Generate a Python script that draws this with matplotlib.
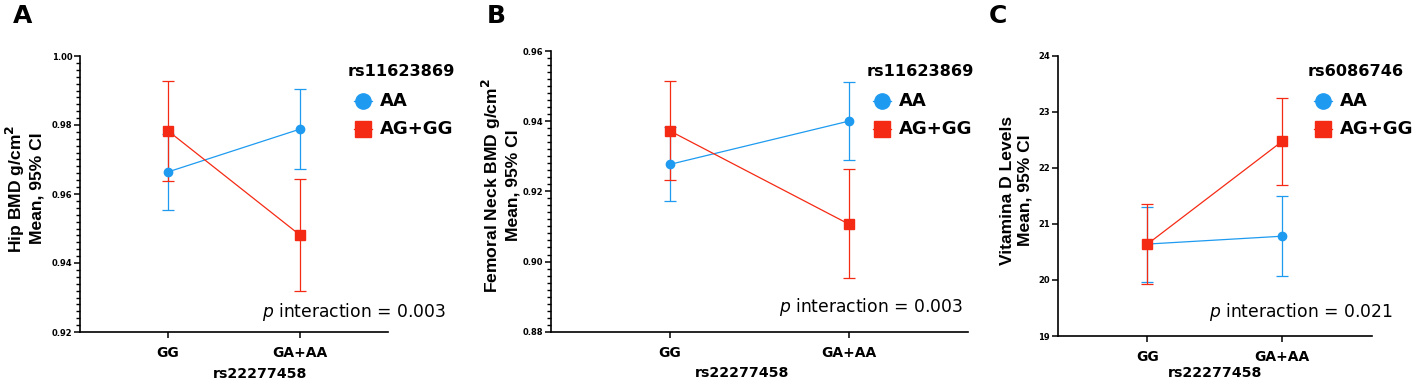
import matplotlib
matplotlib.use("Agg")
import matplotlib.pyplot as plt
from matplotlib.ticker import MultipleLocator, FormatStrFormatter
from matplotlib.lines import Line2D

plt.rcParams['font.family'] = ['DejaVu Sans']

categories = ["GG", "GA+AA"]
x_label = "rs22277458"

# Panel A: Hip BMD
a_aa_mean = [0.9664, 0.9788]
a_aa_low = [0.9555, 0.9672]
a_aa_high = [0.9773, 0.9904]
a_ag_mean = [0.9783, 0.9481]
a_ag_low = [0.9638, 0.9320]
a_ag_high = [0.9928, 0.9644]

# Panel B: Femoral Neck BMD
b_aa_mean = [0.9277, 0.9400]
b_aa_low = [0.9172, 0.9288]
b_aa_high = [0.9382, 0.9513]
b_ag_mean = [0.9372, 0.9107]
b_ag_low = [0.9233, 0.8952]
b_ag_high = [0.9514, 0.9263]

# Panel C: Vitamin D
c_aa_mean = [20.64, 20.78]
c_aa_low = [19.97, 20.07]
c_aa_high = [21.30, 21.49]
c_ag_mean = [20.64, 22.47]
c_ag_low = [19.92, 21.70]
c_ag_high = [21.35, 23.25]

blue = '#1E9BF0'
red = '#F52A14'

W, H = 1417, 386
fig = plt.figure(figsize=(W / 100, H / 100), dpi=100)

def px_axes(l, r, t, b):
    return fig.add_axes([l / W, 1 - b / H, (r - l) / W, (b - t) / H])

panels = [
    dict(box=(80, 388, 56, 332), ylim=(0.92, 1.00), major=0.02, minor=0.002, fmt='%.2f',
         ylabel="Hip BMD g/cm$^\\mathbf{2}$\nMean, 95% CI", ylab_x=-0.114, xlab_x=0.584, xlab_y=-0.125,
         aa=(a_aa_mean, a_aa_low, a_aa_high), ag=(a_ag_mean, a_ag_low, a_ag_high),
         letter="A", letter_x=13, leg_title="rs11623869", leg_x=348, p="0.003", p_x=446, p_y=312),
    dict(box=(551, 967.7, 51, 331.7), ylim=(0.88, 0.96), major=0.02, minor=0.002, fmt='%.2f',
         ylabel="Femoral Neck BMD g/cm$^\\mathbf{2}$\nMean, 95% CI", ylab_x=-0.074, xlab_x=0.458, xlab_y=-0.123,
         aa=(b_aa_mean, b_aa_low, b_aa_high), ag=(b_ag_mean, b_ag_low, b_ag_high),
         letter="B", letter_x=487, leg_title="rs11623869", leg_x=867, p="0.003", p_x=963, p_y=307),
    dict(box=(1057.7, 1371.7, 55.7, 336), ylim=(19, 24), major=1, minor=None, fmt='%d',
         ylabel="Vitamina D Levels\nMean, 95% CI", ylab_x=-0.079, xlab_x=0.5, xlab_y=-0.108,
         aa=(c_aa_mean, c_aa_low, c_aa_high), ag=(c_ag_mean, c_ag_low, c_ag_high),
         letter="C", letter_x=989, leg_title="rs6086746", leg_x=1308, p="0.021", p_x=1393, p_y=312),
]

xpos = list(range(len(categories)))

for pnl in panels:
    ax = px_axes(*pnl['box'])
    for (mean, low, high), col in ((pnl['aa'], blue), (pnl['ag'], red)):
        yerr = [[m - l for m, l in zip(mean, low)], [h - m for m, h in zip(mean, high)]]
        ax.errorbar(xpos, mean, yerr=yerr, fmt='none', ecolor=col, elinewidth=0.9,
                    capsize=4, capthick=0.9, zorder=2)
    m, _, _ = pnl['aa']
    ax.plot(xpos, m, '-', color=blue, lw=0.9, marker='o', ms=6, mec=blue, mfc=blue, zorder=3)
    m, _, _ = pnl['ag']
    ax.plot(xpos, m, '-', color=red, lw=0.9, marker='s', ms=6.5, mec=red, mfc=red, zorder=4)

    ax.set_xlim(-0.667, 1.667)
    ax.set_ylim(*pnl['ylim'])
    ax.set_xticks(xpos)
    ax.set_xticklabels(categories, fontsize=10, fontweight='bold')
    ax.yaxis.set_major_locator(MultipleLocator(pnl['major']))
    if pnl['minor']:
        ax.yaxis.set_minor_locator(MultipleLocator(pnl['minor']))
    ax.yaxis.set_major_formatter(FormatStrFormatter(pnl['fmt']))
    for lab in ax.get_yticklabels():
        lab.set_fontsize(6)
        lab.set_fontweight('bold')
    ax.tick_params(axis='y', which='major', length=4, width=1.1, pad=1.5)
    ax.tick_params(axis='y', which='minor', length=3, width=1.0)
    ax.tick_params(axis='x', length=4, width=1.1, pad=6)
    for s in ('top', 'right'):
        ax.spines[s].set_visible(False)
    for s in ('left', 'bottom'):
        ax.spines[s].set_linewidth(1.2)

    ax.set_ylabel(pnl['ylabel'], fontsize=12.6, fontweight='bold', linespacing=1.2,
                  family=['Liberation Sans', 'DejaVu Sans'])
    ax.yaxis.set_label_coords(pnl['ylab_x'], 0.52)
    ax.set_xlabel(x_label, fontsize=10.2, fontweight='bold')
    ax.xaxis.set_label_coords(pnl['xlab_x'], pnl['xlab_y'])

    # Panel letter
    fig.text(pnl['letter_x'] / W, 1 - 16 / H, pnl['letter'], fontsize=18, fontweight='bold',
             ha='left', va='center')

    # Legend (manual)
    lx = pnl['leg_x']
    fig.text(lx / W, 1 - 72 / H, pnl['leg_title'], fontsize=11.6, fontweight='bold',
             ha='left', va='center')
    for dy, mk, col, lab in ((101, 'o', blue, 'AA'), (129, 's', red, 'AG+GG')):
        fig.add_artist(Line2D([(lx + 6) / W, (lx + 24) / W], [1 - dy / H, 1 - dy / H],
                              color=col, lw=0.9))
        fig.add_artist(Line2D([(lx + 15) / W], [1 - dy / H], marker=mk, ms=11,
                              color=col, mec=col, mfc=col))
        fig.text((lx + 32) / W, 1 - dy / H, lab, fontsize=13, fontweight='bold',
                 ha='left', va='center')

    fig.text(pnl['p_x'] / W, 1 - pnl['p_y'] / H, '$\\it{p}$ interaction = ' + pnl['p'],
             fontsize=12.3, ha='right', va='center')

fig.savefig('out.png', dpi=100)
